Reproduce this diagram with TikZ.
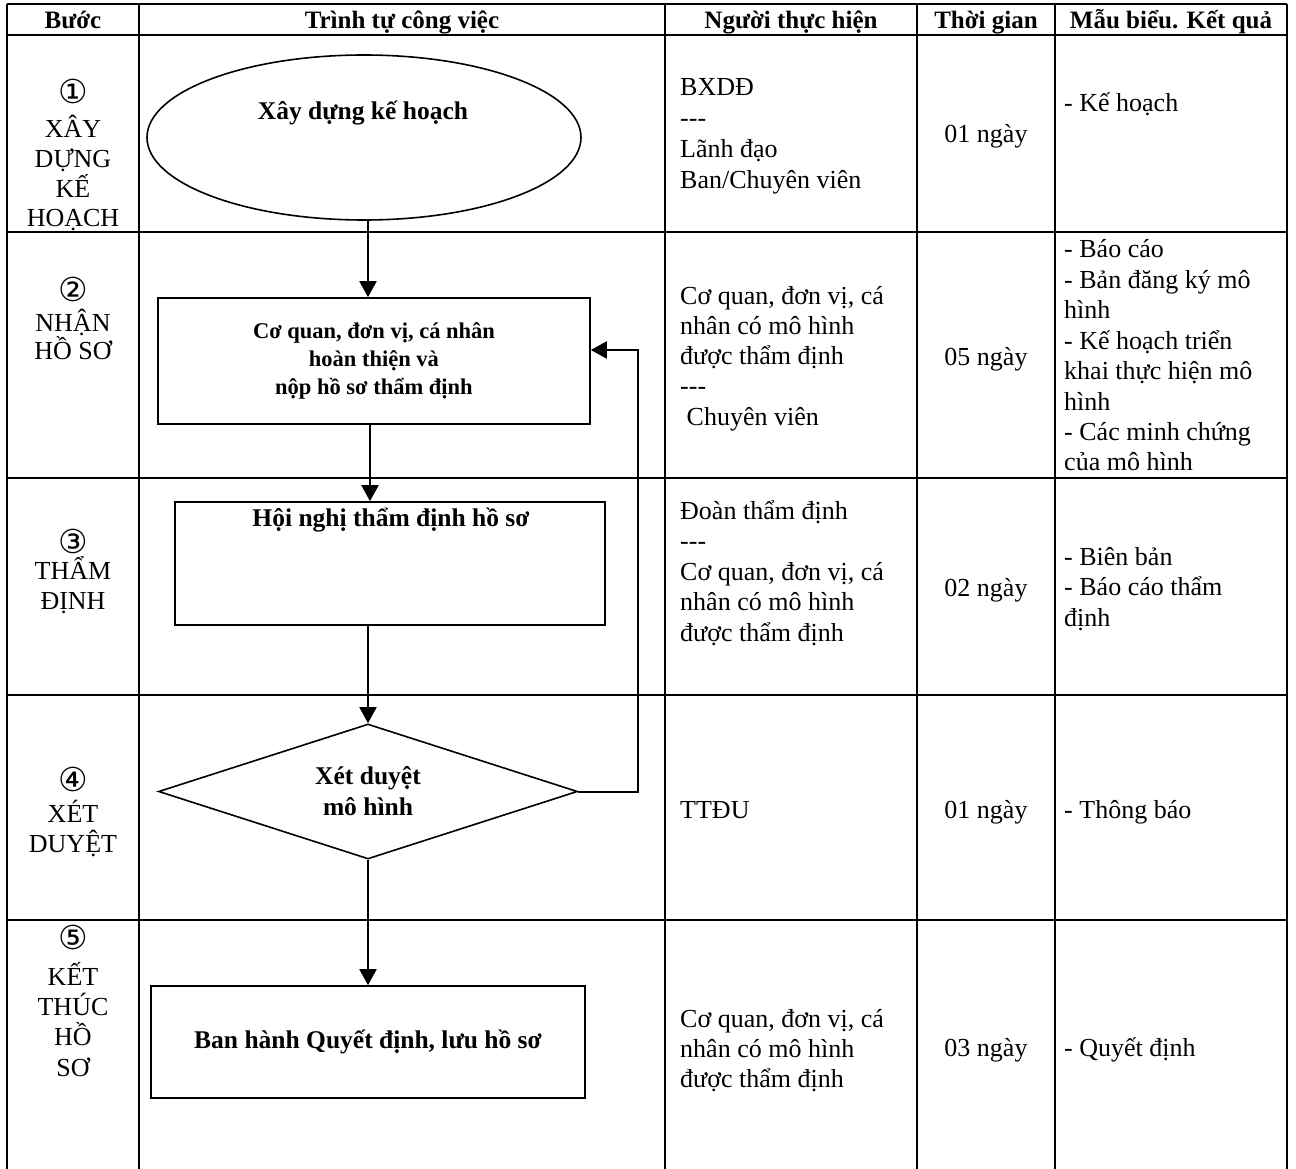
\documentclass[tikz,border=0pt]{standalone}
\usepackage{fontspec}
\setmainfont{Liberation Serif}
\newfontfamily\circfont{DejaVu Sans}
\usetikzlibrary{shapes.geometric,arrows.meta,calc}
\newcommand\threedash{-{}-{}-}
\begin{document}
\begin{tikzpicture}[x=1pt,y=-1pt,
  tablerule/.style={line width=2.4pt},
  shapeline/.style={line width=1.6pt},
  arr/.style={line width=2pt,-{Triangle[length=16pt,width=17pt]}},
  hdr/.style={font=\fontsize{25}{30}\selectfont\bfseries,anchor=base,inner sep=0},
  txt/.style={font=\fontsize{26}{30}\selectfont,anchor=base west,inner sep=0},
  ctxt/.style={font=\fontsize{26}{30}\selectfont,anchor=base,inner sep=0},
  circ/.style={font=\circfont\fontsize{33}{33}\selectfont,inner sep=0},
  flowbox/.style={draw,shapeline,rectangle,inner sep=0,align=center,font=\fontsize{25.5}{31}\selectfont\bfseries},
  boldtxt/.style={font=\fontsize{25.5}{31}\selectfont\bfseries,inner sep=0,align=center},
]
\useasboundingbox (0,0) rectangle (1296,1169);
\fill[white] (0,0) rectangle (1296,1169);

% table rules
\foreach \yy in {4,35,232,478,695,920}
  \draw[tablerule] (7,\yy) -- (1287,\yy);
\foreach \xx in {7,139,665,917,1055,1287}
  \draw[tablerule] (\xx,4) -- (\xx,1169);

% headers
\node[hdr] (h1) at (73,29) {Bước};
\node[hdr] (h2) at (402,29) {Trình tự công việc};
\node[hdr] (h3) at (791,29) {Người thực hiện};
\node[hdr] (h4) at (986,29) {Thời gian};
\node[hdr] (h5) at (1171,29) {Mẫu biểu. Kết quả};

% step column
\node[circ] (s1) at (73,91) {①};
\node[ctxt] (s1a) at (73,138) {XÂY};
\node[ctxt] (s1b) at (73,168) {DỰNG};
\node[ctxt] (s1c) at (73,198) {KẾ};
\node[ctxt] (s1d) at (73,227) {HOẠCH};
\node[circ] (s2) at (73,289) {②};
\node[ctxt] (s2a) at (73,331) {NHẬN};
\node[ctxt] (s2b) at (73,359) {HỒ SƠ};
\node[circ] (s3) at (73,541) {③};
\node[ctxt] (s3a) at (73,579) {THẨM};
\node[ctxt] (s3b) at (73,609) {ĐỊNH};
\node[circ] (s4) at (73,779) {④};
\node[ctxt] (s4a) at (73,822) {XÉT};
\node[ctxt] (s4b) at (73,852) {DUYỆT};
\node[circ] (s5) at (73,937) {⑤};
\node[ctxt] (s5a) at (73,985) {KẾT};
\node[ctxt] (s5b) at (73,1015) {THÚC};
\node[ctxt] (s5c) at (73,1045) {HỒ};
\node[ctxt] (s5d) at (73,1076) {SƠ};

% flow shapes
\node[draw,shapeline,ellipse,minimum width=434pt,minimum height=165pt,inner sep=0] (e1) at (364,137.5) {};
\node[boldtxt] (e1t) at (363,113) {Xây dựng kế hoạch};
\node[flowbox,minimum width=432pt,minimum height=126pt,font=\fontsize{22.5}{28}\selectfont\bfseries] (b2) at (374,361)
  {Cơ quan, đơn vị, cá nhân\\hoàn thiện và\\nộp hồ sơ thẩm định};
\node[flowbox,minimum width=430pt,minimum height=123pt] (b3) at (390,563.5) {};
\node[boldtxt] (b3t) at (391,520) {Hội nghị thẩm định hồ sơ};
\node[draw,shapeline,diamond,aspect=3.1,minimum width=419pt,minimum height=135pt,inner sep=0,align=center,font=\fontsize{25.5}{31}\selectfont\bfseries] (d4) at (368,791.5)
  {Xét duyệt\\mô hình};
\node[flowbox,minimum width=434pt,minimum height=112pt] (b5) at (368,1042) {Ban hành Quyết định, lưu hồ sơ};

% connectors
\draw[arr] ([xshift=4pt]e1.south) -- ([xshift=4pt]e1.south |- b2.north);
\draw[arr] ([xshift=-4pt]b2.south) -- ([xshift=-4pt]b2.south |- b3.north);
\draw[arr] (d4.north |- b3.south) -- (d4.north);
\draw[arr] (d4.south) -- (d4.south |- b5.north);
\coordinate (fb) at (638,791.5);
\coordinate (fbtop) at (638,350);
\draw[arr] (d4.east) -- (fb) -- (fbtop) -- (fbtop -| b2.east);

% performer column
\foreach \t [count=\i] in {BXDĐ,\threedash,Lãnh đạo,Ban/Chuyên viên}
  \node[txt] (p1-\i) at (680,{96+(\i-1)*31}) {\t};
\foreach \t [count=\i] in {{Cơ quan, đơn vị, cá},nhân có mô hình,được thẩm định,\threedash,\ Chuyên viên}
  \node[txt] (p2-\i) at (680,{304+(\i-1)*30.3}) {\t};
\foreach \t [count=\i] in {Đoàn thẩm định,\threedash,{Cơ quan, đơn vị, cá},nhân có mô hình,được thẩm định}
  \node[txt] (p3-\i) at (680,{519+(\i-1)*30.6}) {\t};
\node[txt] (p4-1) at (680,818) {TTĐU};
\foreach \t [count=\i] in {{Cơ quan, đơn vị, cá},nhân có mô hình,được thẩm định}
  \node[txt] (p5-\i) at (680,{1027+(\i-1)*30}) {\t};

% time column
\node[ctxt] (t1) at (986,143) {01 ngày};
\node[ctxt] (t2) at (986,365) {05 ngày};
\node[ctxt] (t3) at (986,596) {02 ngày};
\node[ctxt] (t4) at (986,818) {01 ngày};
\node[ctxt] (t5) at (986,1056) {03 ngày};

% result column
\node[txt] (r1-1) at (1064,112) {- Kế hoạch};
\foreach \t [count=\i] in {- Báo cáo,- Bản đăng ký mô,hình,- Kế hoạch triển,khai thực hiện mô,hình,- Các minh chứng,của mô hình}
  \node[txt] (r2-\i) at (1064,{258+(\i-1)*30.4}) {\t};
\foreach \t [count=\i] in {- Biên bản,- Báo cáo thẩm,định}
  \node[txt] (r3-\i) at (1064,{565+(\i-1)*30.8}) {\t};
\node[txt] (r4-1) at (1064,818) {- Thông báo};
\node[txt] (r5-1) at (1064,1056) {- Quyết định};
\end{tikzpicture}
\end{document}
